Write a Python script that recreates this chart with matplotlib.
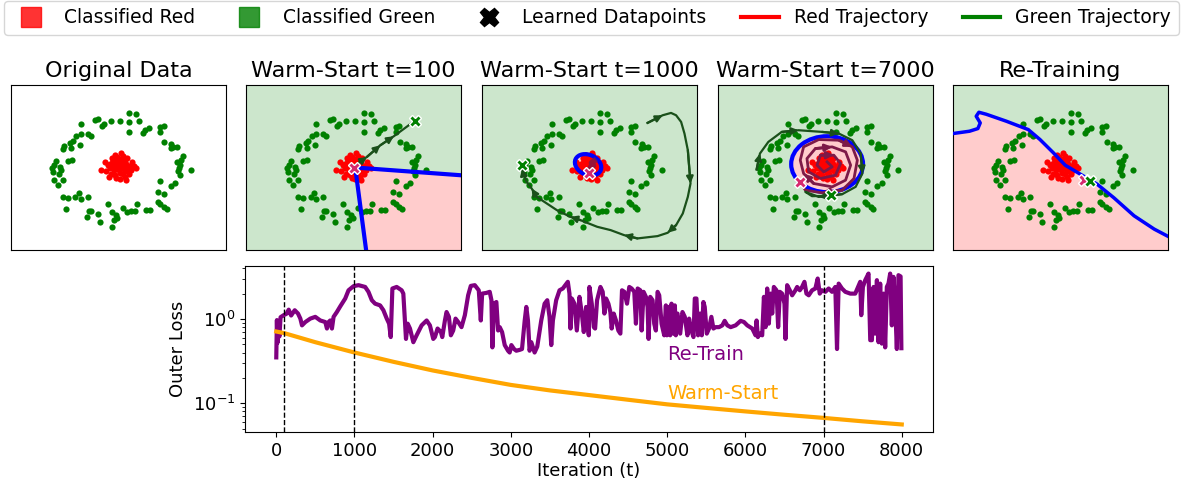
import numpy as np
import matplotlib.pyplot as plt
from matplotlib.lines import Line2D
from matplotlib.patches import Ellipse, Polygon

# ---------------------------------------------------------
# 数据点 (每个子图相同)
# ---------------------------------------------------------
green_x = [0.16, 0.26, -0.35, -0.30, -0.115, 0.02, 0.15, 0.31, -0.555, -0.215, -0.24, 0.625, 0.675, 0.46,
           0.395, 0.36, 0.16, 0.625, -0.555, -0.45, -0.415, -0.625, -0.675, -0.715, -0.575, -0.815, -0.825,
           -0.70, 0.685, 0.785, 0.81, 0.875, 0.775, -0.69, -0.75, -0.925, -0.955, -0.99, -0.875, -0.85,
           -0.975, -0.89, -0.965, -0.825, -0.905, 0.96, 0.935, 0.875, 0.91, 0.895, 0.885, 1.075, 0.91,
           0.625, 0.845, 0.775, -0.59, -0.64, -0.825, -0.755, -0.565, -0.45, -0.775, 0.585, 0.675, 0.585,
           0.625, 0.675, 0.715, 0.275, -0.15, -0.44, -0.405, -0.30, -0.10, -0.04, -0.015, -0.065, 0.06,
           0.125, 0.185, 0.245, 0.41, 0.475, -0.275, -0.09, -0.475]
green_y = [0.82, 0.81, 0.71, 0.735, 0.70, 0.70, 0.685, 0.70, 0.65, 0.65, 0.62, 0.61, 0.62, 0.60,
           0.56, 0.52, 0.53, 0.535, 0.50, 0.51, 0.48, 0.47, 0.40, 0.37, 0.345, 0.32, 0.285,
           0.30, 0.385, 0.36, 0.31, 0.31, 0.295, 0.12, 0.10, 0.095, 0.035, 0.0, 0.01, -0.03,
           -0.065, -0.10, -0.18, -0.18, -0.265, 0.17, 0.12, 0.085, 0.035, 0.0, -0.05, -0.04, -0.115,
           -0.20, -0.23, -0.28, -0.38, -0.44, -0.45, -0.46, -0.48, -0.45, -0.63, -0.365, -0.40, -0.515,
           -0.55, -0.59, -0.63, -0.55, -0.555, -0.65, -0.65, -0.705, -0.665, -0.715, -0.765, -0.79, -0.615,
           -0.665, -0.655, -0.655, -0.64, -0.64, -0.815, -0.89, -0.74]
red_x = [0.00, 0.05, -0.04, 0.08, -0.07, 0.02, -0.02, 0.11, -0.10, 0.06, -0.05, 0.13, -0.13, 0.03, -0.08,
         0.15, 0.10, -0.16, -0.03, 0.09, -0.11, 0.18, 0.04, -0.06, 0.01, 0.07, -0.09, 0.12, -0.02, 0.06,
         -0.18, -0.26, 0.23, 0.26, -0.20, 0.15, -0.14, 0.02, 0.11, 0.20, -0.05, 0.04, -0.12, 0.09, -0.01]
red_y = [0.00, 0.03, 0.05, -0.02, -0.03, -0.08, 0.09, 0.06, 0.07, -0.10, -0.11, -0.05, -0.01, 0.13, 0.12,
         0.02, 0.11, 0.04, -0.15, -0.14, -0.09, -0.03, 0.06, 0.00, -0.04, 0.09, 0.14, 0.14, 0.16, 0.17,
         -0.05, -0.03, 0.02, -0.01, 0.08, -0.10, -0.14, -0.17, -0.18, 0.08, 0.19, 0.22, 0.05, 0.01, 0.03]

# Warm-Start t=100: 决策边界 + 轨迹
ws100_bound_x = [1.65, 0.025, 0.195]
ws100_bound_y = [-0.12, 0.0, -1.30]
ws100_green_traj_x = [0.02, 0.20, 0.40, 0.60, 0.91]
ws100_green_traj_y = [0.03, 0.16, 0.335, 0.47, 0.70]
ws100_red_pt = (0.0, 0.0)
ws100_green_pt = (0.91, 0.70)

# Warm-Start t=1000
ws1000_ellipse = ((-0.02, 0.04), 0.41, 0.30, -25)
ws1000_green_traj_x = [0.865, 1.09, 1.215, 1.29, 1.365, 1.415, 1.465, 1.505, 1.465, 1.39, 1.29, 1.165, 1.015,
                       0.715, 0.515, 0.315, 0.115, -0.135, -0.285, -0.485, -0.635, -0.785, -0.86, -0.935,
                       -0.985, -1.0]
ws1000_green_traj_y = [0.67, 0.785, 0.82, 0.785, 0.685, 0.51, 0.26, -0.24, -0.44, -0.69, -0.865, -0.98, -1.03,
                       -1.065, -1.015, -0.94, -0.89, -0.79, -0.74, -0.64, -0.54, -0.44, -0.315, -0.215,
                       -0.09, -0.015]
ws1000_red_traj_x = [0.07, 0.03, 0.06, 0.02, 0.0]
ws1000_red_traj_y = [0.10, 0.07, 0.03, 0.01, -0.06]
ws1000_red_pt = (0.0, -0.08)
ws1000_green_pt = (-1.01, 0.035)

# Warm-Start t=7000
ws7000_ellipse = ((0.025, 0.05), 1.07, 0.84, 0)
ws7000_green_traj_x = [-1.025, -0.975, -0.85, -0.65, -0.4, -0.05, 0.2, 0.4, 0.525, 0.55, 0.45, 0.25, -0.1,
                       -0.3, -0.2, 0.09]
ws7000_green_traj_y = [-0.03, 0.21, 0.385, 0.535, 0.56, 0.535, 0.51, 0.41, 0.21, -0.09, -0.29, -0.4, -0.44,
                       -0.365, -0.43, -0.425]
ws7000_red_traj_x = [0.025, 0.1, -0.025, -0.125, -0.075, 0.125, 0.225, 0.15, -0.075, -0.25, -0.275, -0.15,
                     0.1, 0.3, 0.375, 0.3, 0.1, -0.175, -0.325, -0.375, -0.325, -0.1, 0.2, 0.4, 0.475,
                     0.425, 0.25, -0.05, -0.3, -0.375]
ws7000_red_traj_y = [0.085, 0.01, -0.065, 0.035, 0.185, 0.185, 0.06, -0.115, -0.165, -0.065, 0.135, 0.285,
                     0.31, 0.235, 0.035, -0.19, -0.29, -0.24, -0.09, 0.11, 0.31, 0.42, 0.41, 0.31, 0.11,
                     -0.165, -0.34, -0.38, -0.34, -0.215]
ws7000_red_pt = (-0.375, -0.215)
ws7000_green_pt = (0.09, -0.415)

# Re-Training
rt_bound_x = [-1.605, -1.355, -1.23, -1.195, -1.255, -1.215, -1.105, -0.805, -0.48, -0.305, -0.105, 0.07,
              0.295, 0.545, 0.795, 1.095, 1.395, 1.65]
rt_bound_y = [0.51, 0.545, 0.585, 0.67, 0.77, 0.83, 0.80, 0.695, 0.57, 0.42, 0.22, 0.035,
              -0.10, -0.25, -0.455, -0.725, -0.925, -1.06]
rt_red_pt = (0.345, -0.19)
rt_green_pt = (0.445, -0.2)

# 下方: Outer Loss 曲线
warm_t = [0, 100, 500, 1000, 1500, 2000, 2500, 3000, 3500, 4000, 4500, 5000, 5500, 6000, 6500, 7000,
          7500, 8000]
warm_loss = [0.71, 0.68, 0.53, 0.40, 0.31, 0.245, 0.20, 0.165, 0.142, 0.125, 0.11, 0.097, 0.088, 0.080,
             0.073, 0.067, 0.061, 0.056]

retrain_t = [0, 8, 15, 25, 40, 55, 95, 130, 159, 190, 236, 278, 308, 329, 372, 435, 499, 563, 627, 648,
             669, 690, 712, 733, 775, 818, 882, 924, 988, 1052, 1137, 1179, 1222, 1264, 1328, 1370, 1413,
             1443, 1464, 1485, 1540, 1604, 1625, 1647, 1659, 1681, 1710, 1753, 1795, 1859, 1923, 1965,
             2008, 2029, 2063, 2106, 2123, 2157, 2178, 2208, 2233, 2263, 2293, 2327, 2369, 2412, 2454,
             2488, 2539, 2590, 2616, 2633, 2688, 2730, 2752, 2764, 2786, 2815, 2837, 2858, 2888, 2922,
             2964, 2985, 3007, 3041, 3070, 3113, 3143, 3177, 3198, 3219, 3240, 3262, 3304, 3338, 3389,
             3432, 3466, 3495, 3517, 3538, 3580, 3623, 3665, 3729, 3750, 3763, 3780, 3814, 3844, 3878,
             3908, 3933, 3963, 3997, 4005, 4035, 4061, 4078, 4103, 4146, 4175, 4197, 4218, 4248, 4273,
             4290, 4316, 4345, 4375, 4401, 4422, 4452, 4486, 4515, 4545, 4579, 4600, 4622, 4656, 4673,
             4698, 4728, 4749, 4762, 4783, 4813, 4834, 4855, 4877, 4898, 4928, 4962, 4983, 4996, 5013,
             5038, 5055, 5081, 5098, 5110, 5132, 5166, 5195, 5225, 5259, 5280, 5302, 5336, 5353, 5374,
             5395, 5421, 5442, 5463, 5480, 5506, 5535, 5565, 5591, 5620, 5663, 5705, 5735, 5769, 5812,
             5875, 5939, 5982, 6024, 6088, 6130, 6143, 6160, 6186, 6215, 6237, 6258, 6279, 6300, 6322,
             6343, 6364, 6398, 6419, 6441, 6470, 6500, 6513, 6534, 6568, 6598, 6640, 6662, 6696, 6725,
             6755, 6781, 6810, 6853, 6895, 6925, 6951, 6980, 7023, 7065, 7108, 7150, 7172, 7193, 7235,
             7278, 7342, 7405, 7469, 7482, 7503, 7533, 7575, 7597, 7618, 7639, 7660, 7682, 7703, 7724,
             7745, 7767, 7788, 7809, 7830, 7852, 7873, 7894, 7915, 7937, 7958, 7985, 7995]
retrain_loss = [0.35, 0.97, 0.52, 0.80, 0.62, 1.05, 1.11, 1.15, 1.29, 1.10, 1.27, 1.16, 1.01, 0.84, 0.92,
                1.01, 1.06, 0.96, 0.92, 0.77, 0.92, 0.96, 0.77, 1.06, 1.21, 1.41, 1.75, 2.19, 2.45, 2.52,
                2.40, 2.10, 1.67, 1.52, 1.45, 1.27, 1.01, 0.88, 0.61, 2.30, 2.40, 2.19, 2.00, 0.88, 0.58,
                0.88, 0.77, 0.53, 0.64, 0.84, 0.96, 0.84, 0.58, 0.61, 0.77, 0.70, 0.61, 0.96, 1.21, 1.06,
                0.64, 0.73, 1.01, 0.92, 0.80, 1.11, 1.91, 2.47, 2.52, 2.19, 0.96, 2.00, 2.04, 2.10, 1.67,
                0.46, 1.52, 1.59, 0.73, 0.80, 0.70, 0.49, 0.42, 0.40, 0.49, 0.44, 0.42, 0.43, 0.44, 0.95,
                1.39, 0.96, 0.42, 0.53, 0.40, 0.47, 0.96, 1.52, 1.67, 1.06, 0.49, 0.96, 1.67, 2.19, 2.30,
                2.76, 2.00, 0.77, 1.75, 1.52, 0.73, 1.83, 1.16, 0.70, 1.39, 0.64, 2.40, 1.52, 0.80, 0.77,
                1.67, 2.40, 2.10, 1.16, 1.75, 1.52, 1.21, 0.77, 1.16, 0.96, 0.73, 0.67, 2.19, 2.10, 1.52,
                2.40, 2.30, 2.10, 0.88, 2.30, 2.19, 0.73, 2.10, 1.83, 1.39, 0.58, 1.83, 1.67, 0.88, 0.73,
                2.10, 1.91, 0.88, 0.64, 1.45, 0.64, 1.39, 0.64, 1.52, 0.67, 1.45, 0.64, 1.16, 0.67, 1.21,
                1.06, 0.64, 1.01, 0.77, 0.61, 1.75, 1.75, 0.64, 1.16, 0.64, 1.59, 1.39, 0.67, 0.77, 1.06,
                0.77, 0.80, 0.80, 0.84, 0.95, 0.84, 0.80, 0.84, 0.95, 0.92, 0.84, 0.77, 0.64, 0.96, 0.61,
                0.67, 0.64, 1.83, 0.80, 2.30, 0.88, 2.00, 1.16, 2.40, 2.19, 0.80, 2.10, 2.00, 1.52, 0.58,
                2.52, 2.19, 1.91, 2.19, 2.40, 2.19, 2.40, 2.76, 2.00, 1.91, 2.19, 2.30, 3.02, 2.00, 2.19,
                2.10, 2.30, 2.10, 2.40, 0.44, 2.63, 2.30, 2.10, 2.00, 2.00, 2.76, 1.11, 2.40, 2.89, 3.46,
                0.56, 0.56, 2.40, 0.67, 2.89, 0.53, 2.63, 0.51, 2.00, 0.46, 2.40, 2.63, 3.46, 0.84, 3.16,
                1.52, 0.44, 3.31, 3.20, 0.45]
marked_t = [100, 1000, 7000]

# 颜色
BG_GREEN = '#cce6cc'
BG_RED = '#ffcccc'
TRAJ_GREEN = '#1a501a'
TRAJ_RED = '#7d1a48'
PT_RED = '#d62a6e'
PT_GREEN = 'green'

XLIM = (-1.6, 1.6)
YLIM = (-1.24, 1.24)


def draw_points(ax):
    ax.scatter(green_x, green_y, s=20, color='green', zorder=2, linewidths=0)
    ax.scatter(red_x, red_y, s=20, color='red', zorder=2, linewidths=0)


def draw_traj(ax, xs, ys, color, arrow_idx, lw=1.6):
    ax.plot(xs, ys, color=color, lw=lw, zorder=4)
    for i in arrow_idx:
        ax.annotate('', xy=(xs[i + 1], ys[i + 1]), xytext=(xs[i], ys[i]),
                    arrowprops=dict(arrowstyle='-|>', color=color, lw=lw,
                                    mutation_scale=10, shrinkA=0, shrinkB=0), zorder=4)


def draw_learned(ax, red_pt, green_pt):
    ax.plot(*red_pt, marker='X', ms=9, color=PT_RED, mec='white', mew=1, zorder=6)
    ax.plot(*green_pt, marker='X', ms=9, color=PT_GREEN, mec='white', mew=1, zorder=6)


def setup(ax, title, bg=None):
    ax.set_xlim(*XLIM)
    ax.set_ylim(*YLIM)
    ax.set_xticks([])
    ax.set_yticks([])
    ax.set_title(title, fontsize=16)
    if bg is not None:
        ax.set_facecolor(bg)


fig = plt.figure(figsize=(11.83, 4.8), dpi=100)

lefts = [0.0093, 0.208, 0.4074, 0.6069, 0.8056]
axs = [fig.add_axes([l, 0.479, 0.1817, 0.344]) for l in lefts]

# 1. Original Data
ax = axs[0]
setup(ax, 'Original Data')
draw_points(ax)

# 2. Warm-Start t=100
ax = axs[1]
setup(ax, 'Warm-Start t=100', BG_GREEN)
poly = list(zip(ws100_bound_x, ws100_bound_y)) + [(1.65, -1.30)]
ax.add_patch(Polygon(poly, closed=True, facecolor=BG_RED, edgecolor='none', zorder=0))
draw_points(ax)
ax.plot(ws100_bound_x, ws100_bound_y, color='blue', lw=3, zorder=3)
draw_traj(ax, ws100_green_traj_x, ws100_green_traj_y, TRAJ_GREEN, [0, 1, 2])
draw_learned(ax, ws100_red_pt, ws100_green_pt)

# 3. Warm-Start t=1000
ax = axs[2]
setup(ax, 'Warm-Start t=1000', BG_GREEN)
c, w, h, a = ws1000_ellipse
ax.add_patch(Ellipse(c, w, h, angle=a, facecolor=BG_RED, edgecolor='none', zorder=1))
draw_points(ax)
ax.add_patch(Ellipse(c, w, h, angle=a, facecolor='none', edgecolor='blue', lw=3, zorder=3))
ax.plot(ws1000_red_traj_x, ws1000_red_traj_y, color=TRAJ_RED, lw=4, alpha=0.8, zorder=4)
draw_traj(ax, ws1000_green_traj_x, ws1000_green_traj_y, TRAJ_GREEN, [0, 6, 10, 13, 17, 21, 24])
draw_learned(ax, ws1000_red_pt, ws1000_green_pt)

# 4. Warm-Start t=7000
ax = axs[3]
setup(ax, 'Warm-Start t=7000', BG_GREEN)
c, w, h, a = ws7000_ellipse
ax.add_patch(Ellipse(c, w, h, angle=a, facecolor=BG_RED, edgecolor='none', zorder=1))
draw_points(ax)
ax.add_patch(Ellipse(c, w, h, angle=a, facecolor='none', edgecolor='blue', lw=3, zorder=3))
draw_traj(ax, ws7000_red_traj_x, ws7000_red_traj_y, TRAJ_RED, [4, 11, 17, 22, 26], lw=2)
draw_traj(ax, ws7000_green_traj_x, ws7000_green_traj_y, TRAJ_GREEN, [0, 3, 5, 8, 11])
draw_learned(ax, ws7000_red_pt, ws7000_green_pt)

# 5. Re-Training
ax = axs[4]
setup(ax, 'Re-Training', BG_GREEN)
poly = list(zip(rt_bound_x, rt_bound_y)) + [(1.65, -1.30), (-1.65, -1.30)]
ax.add_patch(Polygon(poly, closed=True, facecolor=BG_RED, edgecolor='none', zorder=0))
draw_points(ax)
ax.plot(rt_bound_x, rt_bound_y, color='blue', lw=2.5, zorder=3)
draw_learned(ax, rt_red_pt, rt_green_pt)

# 6. Outer Loss
ax = fig.add_axes([0.2071, 0.1, 0.5816, 0.3458])
ax.plot(retrain_t, retrain_loss, color='purple', lw=3)
ax.plot(warm_t, warm_loss, color='orange', lw=3)
for t in marked_t:
    ax.axvline(t, color='black', ls='--', lw=1)
ax.set_yscale('log')
ax.text(5000, 0.38, 'Re-Train', color='purple', fontsize=14, va='center')
ax.text(5000, 0.13, 'Warm-Start', color='orange', fontsize=14, va='center')
ax.set_xlabel('Iteration (t)', fontsize=13, labelpad=2)
ax.set_ylabel('Outer Loss', fontsize=13)
ax.tick_params(labelsize=13)

# 图例
handles = [
    Line2D([0], [0], marker='s', ls='none', ms=15, markerfacecolor=(1, 0, 0, 0.8),
           markeredgecolor=(1, 0, 0, 0.8), label='Classified Red'),
    Line2D([0], [0], marker='s', ls='none', ms=15, markerfacecolor=(0, 0.5, 0, 0.8),
           markeredgecolor=(0, 0.5, 0, 0.8), label='Classified Green'),
    Line2D([0], [0], marker='X', ls='none', ms=13, color='black', label='Learned Datapoints'),
    Line2D([0], [0], color='red', lw=3, label='Red Trajectory'),
    Line2D([0], [0], color='green', lw=3, label='Green Trajectory'),
]
fig.legend(handles=handles, loc='upper center', bbox_to_anchor=(0.5, 1.0), ncol=5,
           fontsize=13.5, borderaxespad=0.05, columnspacing=1.85)

plt.savefig('out.png', dpi=100)
